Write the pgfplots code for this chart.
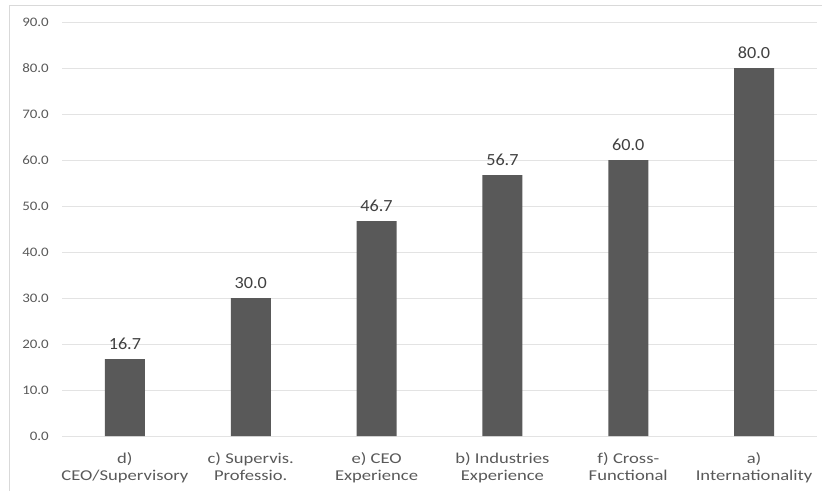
\documentclass[border=0pt]{standalone}
\usepackage{fontspec}
\setmainfont{Carlito}
\newfontfamily\tickfont{Carlito}[FakeStretch=1.15]
\newfontfamily\valfont{Carlito}[FakeStretch=1.07]
\newfontfamily\catfont{Carlito}[FakeStretch=1.24]
\usepackage{pgfplots}
\pgfplotsset{compat=1.18}
\definecolor{barfill}{HTML}{595959}
\definecolor{txtgray}{HTML}{595959}
\definecolor{valgray}{HTML}{404040}
\definecolor{gridgray}{HTML}{E3E3E3}
\definecolor{framegray}{HTML}{D9D9D9}
\begin{document}
\begin{tikzpicture}
\useasboundingbox (-62pt,-54pt) rectangle (760pt,436pt);
\draw[framegray, line width=1pt] (-52pt,-60pt) -- (-52pt,430pt) -- (770pt,430pt);
\begin{axis}[
  at={(0pt,0pt)}, anchor=south west,
  scale only axis,
  width=755pt, height=414pt,
  xmin=-0.5, xmax=5.5,
  ymin=0, ymax=90,
  ytick={0,10,...,90},
  xtick={0,1,2,3,4,5},
  xticklabels={{d)\\CEO/Supervisory},{c) Supervis.\\Professio.},{e) CEO\\Experience},{b) Industries\\Experience},{f) Cross-\\Functional},{a)\\Internationality}},
  axis line style={draw=none},
  tick style={draw=none},
  ymajorgrids,
  grid style={gridgray, line width=0.8pt},
  /pgf/number format/assume math mode=true,
  yticklabel={\pgfmathprintnumber[fixed,fixed zerofill,precision=1]{\tick}},
  yticklabel style={font=\tickfont\fontsize{13}{15}\selectfont, text=txtgray, anchor=east, inner sep=0pt, xshift=-13pt},
  xticklabel style={font=\catfont\fontsize{15}{17}\selectfont, text=txtgray, align=center, anchor=north, inner sep=0pt, yshift=-16.5pt},
  nodes near coords={\pgfmathprintnumber[fixed,fixed zerofill,precision=1]{\pgfplotspointmeta}},
  every node near coord/.append style={font=\valfont\fontsize{17}{19}\selectfont, text=valgray, anchor=base, inner sep=0pt, yshift=10pt},
  clip=false,
]
\addplot[ybar, bar width=40pt, fill=barfill, draw=none] coordinates {
  (0,16.7) (1,30.0) (2,46.7) (3,56.7) (4,60.0) (5,80.0)
};
\end{axis}
\end{tikzpicture}
\end{document}
